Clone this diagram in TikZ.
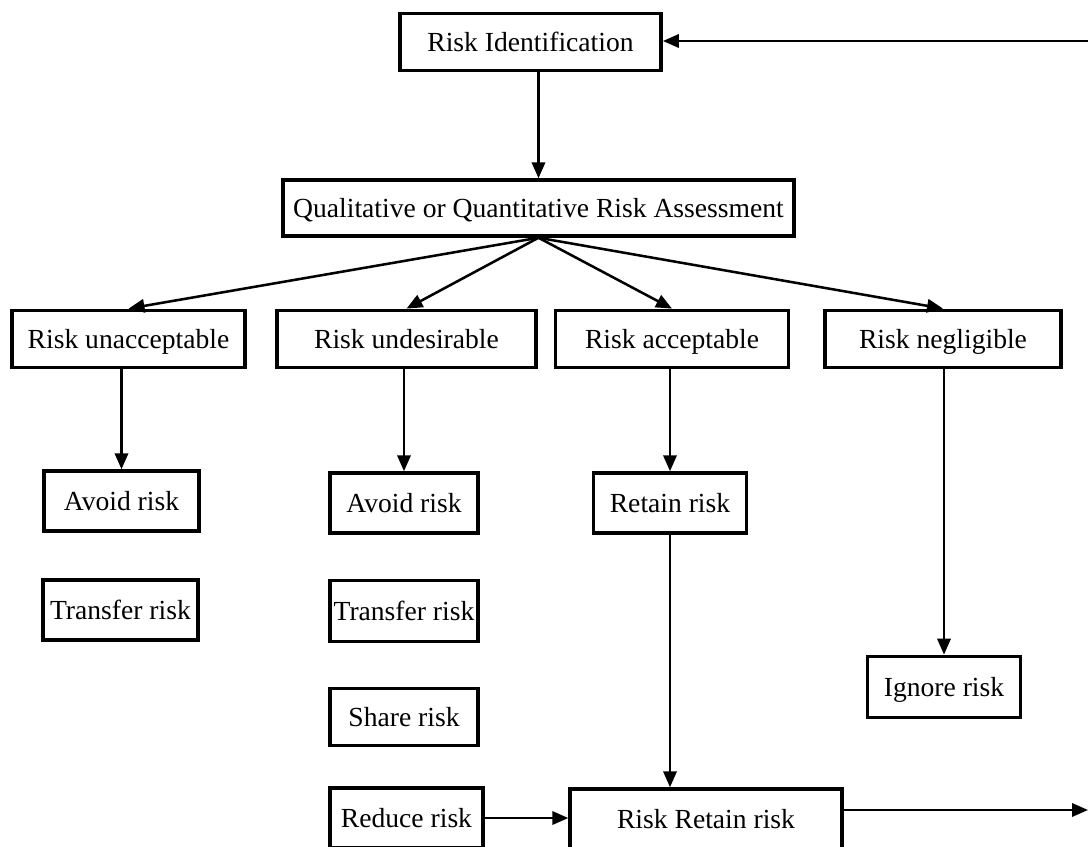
\documentclass[tikz,border=0pt]{standalone}
\usepackage{fontspec}
\setmainfont{Liberation Serif}
\usepackage{tikz}
\usetikzlibrary{arrows.meta}

\tikzset{
  riskbox/.style={draw, line width=2.6pt, inner sep=0pt, align=center, text height=15pt, text depth=1pt, font=\fontsize{20.7}{24}\selectfont},
  flow/.style={line width=1.9pt, -{Triangle[length=12pt,width=10pt]}}
}

\begin{document}
\begin{tikzpicture}[x=0.75pt,y=0.75pt,yscale=-1,xscale=1]
\useasboundingbox (0,0) rectangle (1088,846);

% Text Node
\node [riskbox, minimum width=196pt, minimum height=43pt] (ident) at (530.5,42) {Risk Identification};
% Text Node
\node [riskbox, minimum width=383pt, minimum height=42pt] (assess) at (538.5,208) {Qualitative or Quantitative Risk Assessment};

% Text Node
\node [riskbox, minimum width=175pt, minimum height=43pt] (unacc) at (128.5,339) {Risk unacceptable};
% Text Node
\node [riskbox, minimum width=194pt, minimum height=43pt] (undes) at (406.5,339) {Risk undesirable};
% Text Node
\node [riskbox, minimum width=175pt, minimum height=43pt] (accept) at (672,339) {Risk acceptable};
% Text Node
\node [riskbox, minimum width=177pt, minimum height=43pt] (neglig) at (943,339) {Risk negligible};

% Text Node
\node [riskbox, minimum width=116pt, minimum height=45pt] (avoida) at (121.5,501) {Avoid risk};
% Text Node
\node [riskbox, minimum width=116pt, minimum height=45pt] (transa) at (120.5,610) {Transfer risk};

% Text Node
\node [riskbox, minimum width=111pt, minimum height=45pt] (avoidb) at (404,503) {Avoid risk};
% Text Node
\node [riskbox, minimum width=111pt, minimum height=46pt] (transb) at (404,611) {Transfer risk};
% Text Node
\node [riskbox, minimum width=111pt, minimum height=43pt] (share) at (404,717) {Share risk};
% Text Node
\node [riskbox, minimum width=115pt, minimum height=45pt] (reduce) at (406.5,818) {Reduce risk};

% Text Node
\node [riskbox, minimum width=115pt, minimum height=45pt] (retain) at (670,503) {Retain risk};
% Text Node
\node [riskbox, minimum width=204pt, minimum height=45pt] (rrisk) at (706,819) {Risk Retain risk};
% Text Node
\node [riskbox, minimum width=115pt, minimum height=46pt] (ignore) at (944,687) {Ignore risk};

% off-page ends
\coordinate (backin) at (1088,41);
\coordinate (outend) at (1088,810);

% Straight Lines
\draw [flow] (backin) -- (ident.east |- backin);
\draw [flow] (ident.south -| assess.north) -- (assess.north);
% Straight Lines
\draw [flow] (assess.south) -- (unacc.north);
\draw [flow] (assess.south) -- (undes.north);
\draw [flow] (assess.south) -- (accept.north);
\draw [flow] (assess.south) -- (neglig.north);
% Straight Lines
\draw [flow] (unacc.south -| avoida.north) -- (avoida.north);
\draw [flow] (undes.south -| avoidb.north) -- (avoidb.north);
\draw [flow] (accept.south -| retain.north) -- (retain.north);
\draw [flow] (neglig.south -| ignore.north) -- (ignore.north);
% Straight Lines
\draw [flow] (retain.south) -- (retain.south |- rrisk.north);
\draw [flow] (reduce.east) -- (reduce.east -| rrisk.west);
\draw [flow] (rrisk.east |- outend) -- (outend);

\end{tikzpicture}
\end{document}
